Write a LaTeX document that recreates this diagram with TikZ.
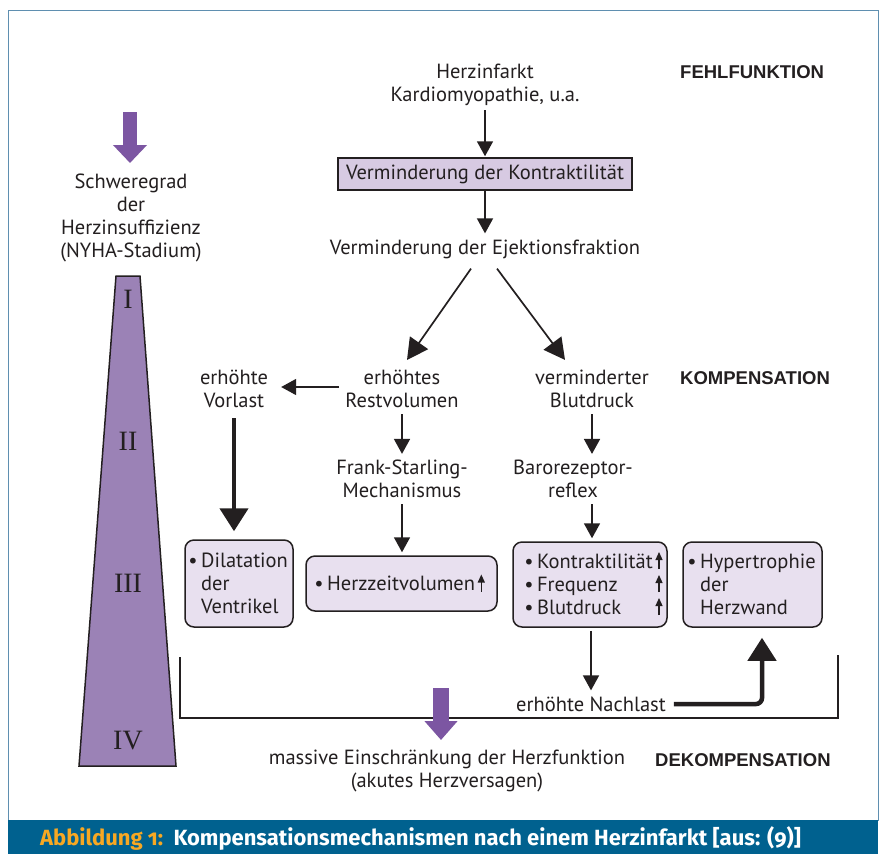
\documentclass[tikz,border=0pt]{standalone}
\usepackage{fontspec}
\setmainfont{PT Sans}
\newfontfamily\capfont[Numbers=OldStyle]{Fira Sans}
\newfontfamily\headfont{Liberation Sans}
\newfontfamily\romfont{Liberation Serif}
\usetikzlibrary{arrows.meta}
\definecolor{barblue}{HTML}{00618F}
\definecolor{capor}{HTML}{F7A823}
\definecolor{frameblue}{HTML}{5F8FB0}
\definecolor{trap}{HTML}{9B82B6}
\definecolor{parrow}{HTML}{7C56A2}
\definecolor{boxfill}{HTML}{E8E0EF}
\definecolor{topfill}{HTML}{D7CAE2}
\definecolor{ink}{HTML}{231F20}
\tikzset{
  txt/.style={font=\fontsize{20.5}{23}\selectfont, align=center, inner sep=0pt, text=ink},
  head/.style={font=\headfont\bfseries\fontsize{18.5}{20}\selectfont, inner sep=0pt, anchor=west, text=ink},
  rom/.style={font=\romfont\fontsize{28}{28}\selectfont, inner sep=0pt, text=ink},
  rbox/.style={draw=ink, line width=1.5pt, fill=boxfill, rounded corners=9pt, inner sep=0pt},
  arr/.style={draw=ink, line width=1.7pt, -{Triangle[width=16pt,length=15pt]}},
  darr/.style={draw=ink, line width=1.7pt, -{Triangle[width=22pt,length=21pt]}},
  thickarr/.style={draw=ink, line width=4.5pt, -{Triangle[width=28pt,length=23pt]}},
  uparr/.style={draw=ink, line width=1.2pt, -{Triangle[width=7pt,length=8pt]}},
  parr/.style={draw=parrow, line width=14pt, -{Triangle[width=33pt,length=18pt]}}
}
\begin{document}
\begin{tikzpicture}[x=1pt,y=-1pt]
\useasboundingbox (0,0) rectangle (885,854);
\fill[white] (0,0) rectangle (885,854);
\draw[frameblue, line width=1pt] (8,10) rectangle (878,820);
\fill[barblue] (8,820) rectangle (878,854);
\node[anchor=west, inner sep=0pt, font=\capfont\bfseries\fontsize{22}{24}\selectfont] (cap) at (40,838)
  {\textcolor{capor}{Abbildung 1:}\ \ \textcolor{white}{Kompensationsmechanismen nach einem Herzinfarkt [aus: (9)]}};

% headings
\node[head] (fehl) at (680,72) {FEHLFUNKTION};
\node[head] (komp) at (680,378) {KOMPENSATION};
\node[head] (dekomp) at (655,760) {DEKOMPENSATION};

% left severity scale
\draw[parr] (130,112) -- (130,163);
\node[txt] (schwere) at (131,218) {Schweregrad\\der\\Herzinsuffizienz\\(NYHA-Stadium)};
\draw[draw=ink, line width=1.5pt, fill=trap] (116,276) -- (140,276) -- (176,766) -- (79,766) -- cycle;
\node[rom] (r1) at (128,299) {I};
\node[rom] (r2) at (128,441) {II};
\node[rom] (r3) at (128,583) {III};
\node[rom] (r4) at (128,741) {IV};

% main chain
\node[txt] (herz) at (485,85) {Herzinfarkt\\Kardiomyopathie, u.a.};
\node[txt, draw=ink, line width=1.5pt, fill=topfill, minimum width=294pt, minimum height=32pt] (kontr) at (485,174) {Verminderung der Kontraktilität};
\node[txt] (ejek) at (485,249) {Verminderung der Ejektionsfraktion};
\node[txt] (rest) at (402,389) {erhöhtes\\Restvolumen};
\node[txt] (blut) at (592,389) {verminderter\\Blutdruck};
\node[txt] (vorl) at (234,389) {erhöhte\\Vorlast};
\node[txt] (frank) at (402,479) {Frank-Starling-\\Mechanismus};
\node[txt] (baro) at (573,479) {Barorezeptor-\\reflex};

% boxes
\node[rbox, minimum width=108pt, minimum height=87pt] (dil) at (239,583.5) {};
\node[txt, align=left, anchor=west] (diltxt) at ([xshift=4pt]dil.west) {\textbullet\,Dilatation\\\phantom{\textbullet\,}der\\\phantom{\textbullet\,}Ventrikel};
\node[rbox, minimum width=191pt, minimum height=55pt] (hzv) at (401.5,583.5) {};
\node[txt, anchor=west] (hzvtxt) at ([xshift=9pt]hzv.west) {\textbullet\,Herzzeitvolumen};
\node[rbox, minimum width=154pt, minimum height=85pt] (kon) at (590,584.5) {};
\node[txt, align=left, anchor=west] (kontxt) at ([xshift=12pt]kon.west) {\textbullet\,Kontraktilität\\\textbullet\,Frequenz\\\textbullet\,Blutdruck};
\node[rbox, minimum width=139pt, minimum height=85pt] (hyp) at (752.5,584.5) {};
\node[txt, align=left, anchor=west] (hyptxt) at ([xshift=5pt]hyp.west) {\textbullet\,Hypertrophie\\\phantom{\textbullet\,}der\\\phantom{\textbullet\,}Herzwand};

% small up arrows
\draw[uparr] ([xshift=6pt,yshift=-8pt]hzvtxt.east) -- ([xshift=6pt,yshift=9pt]hzvtxt.east);
\draw[uparr] (659,569) -- (659,552);
\draw[uparr] (659,592) -- (659,575);
\draw[uparr] (659,615) -- (659,598);

\node[txt] (nach) at (591,704) {erhöhte Nachlast};
\node[txt] (massive) at (447,771) {massive Einschränkung der Herzfunktion\\(akutes Herzversagen)};

% connectors
\draw[arr] ([yshift=-4pt]herz.south) -- ([yshift=1pt]kontr.north);
\draw[arr] (kontr.south) -- ([yshift=6pt]ejek.north);
\draw[darr] ([xshift=-14pt,yshift=-10pt]ejek.south) -- ([xshift=5pt,yshift=10pt]rest.north);
\draw[darr] ([xshift=12pt,yshift=-10pt]ejek.south) -- ([xshift=-27pt,yshift=10pt]blut.north);
\draw[arr] ([xshift=-6pt,yshift=2pt]rest.west) -- ([xshift=13pt,yshift=2pt]vorl.east);
\draw[arr] ([yshift=-6pt]rest.south) -- ([yshift=6pt]frank.north);
\draw[arr] ([yshift=-6pt]blut.south) -- ([yshift=6pt]blut.south |- baro.north);
\draw[arr] ([yshift=-6pt]frank.south) -- ([yshift=3pt]frank.south |- hzv.north);
\draw[arr] ([yshift=-6pt]blut.south |- baro.south) -- ([yshift=3pt]blut.south |- kon.north);
\draw[thickarr] ([yshift=-10pt]vorl.south) -- ([yshift=8pt]vorl.south |- dil.north);
\draw[arr] ([yshift=-3pt]nach.north |- kon.south) -- ([yshift=6pt]nach.north);
\draw[thickarr, rounded corners=6pt] ([xshift=8pt]nach.east) -- (762,704) -- ([yshift=-10pt]hyp.south -| 762,0);

% bracket
\draw[draw=ink, line width=1.3pt] (180,657) -- (180,718) -- (838,718) -- (838,655);
\draw[parr, line width=16pt, -{Triangle[width=32pt,length=19pt]}] (441,688) -- (441,740);
\end{tikzpicture}
\end{document}
